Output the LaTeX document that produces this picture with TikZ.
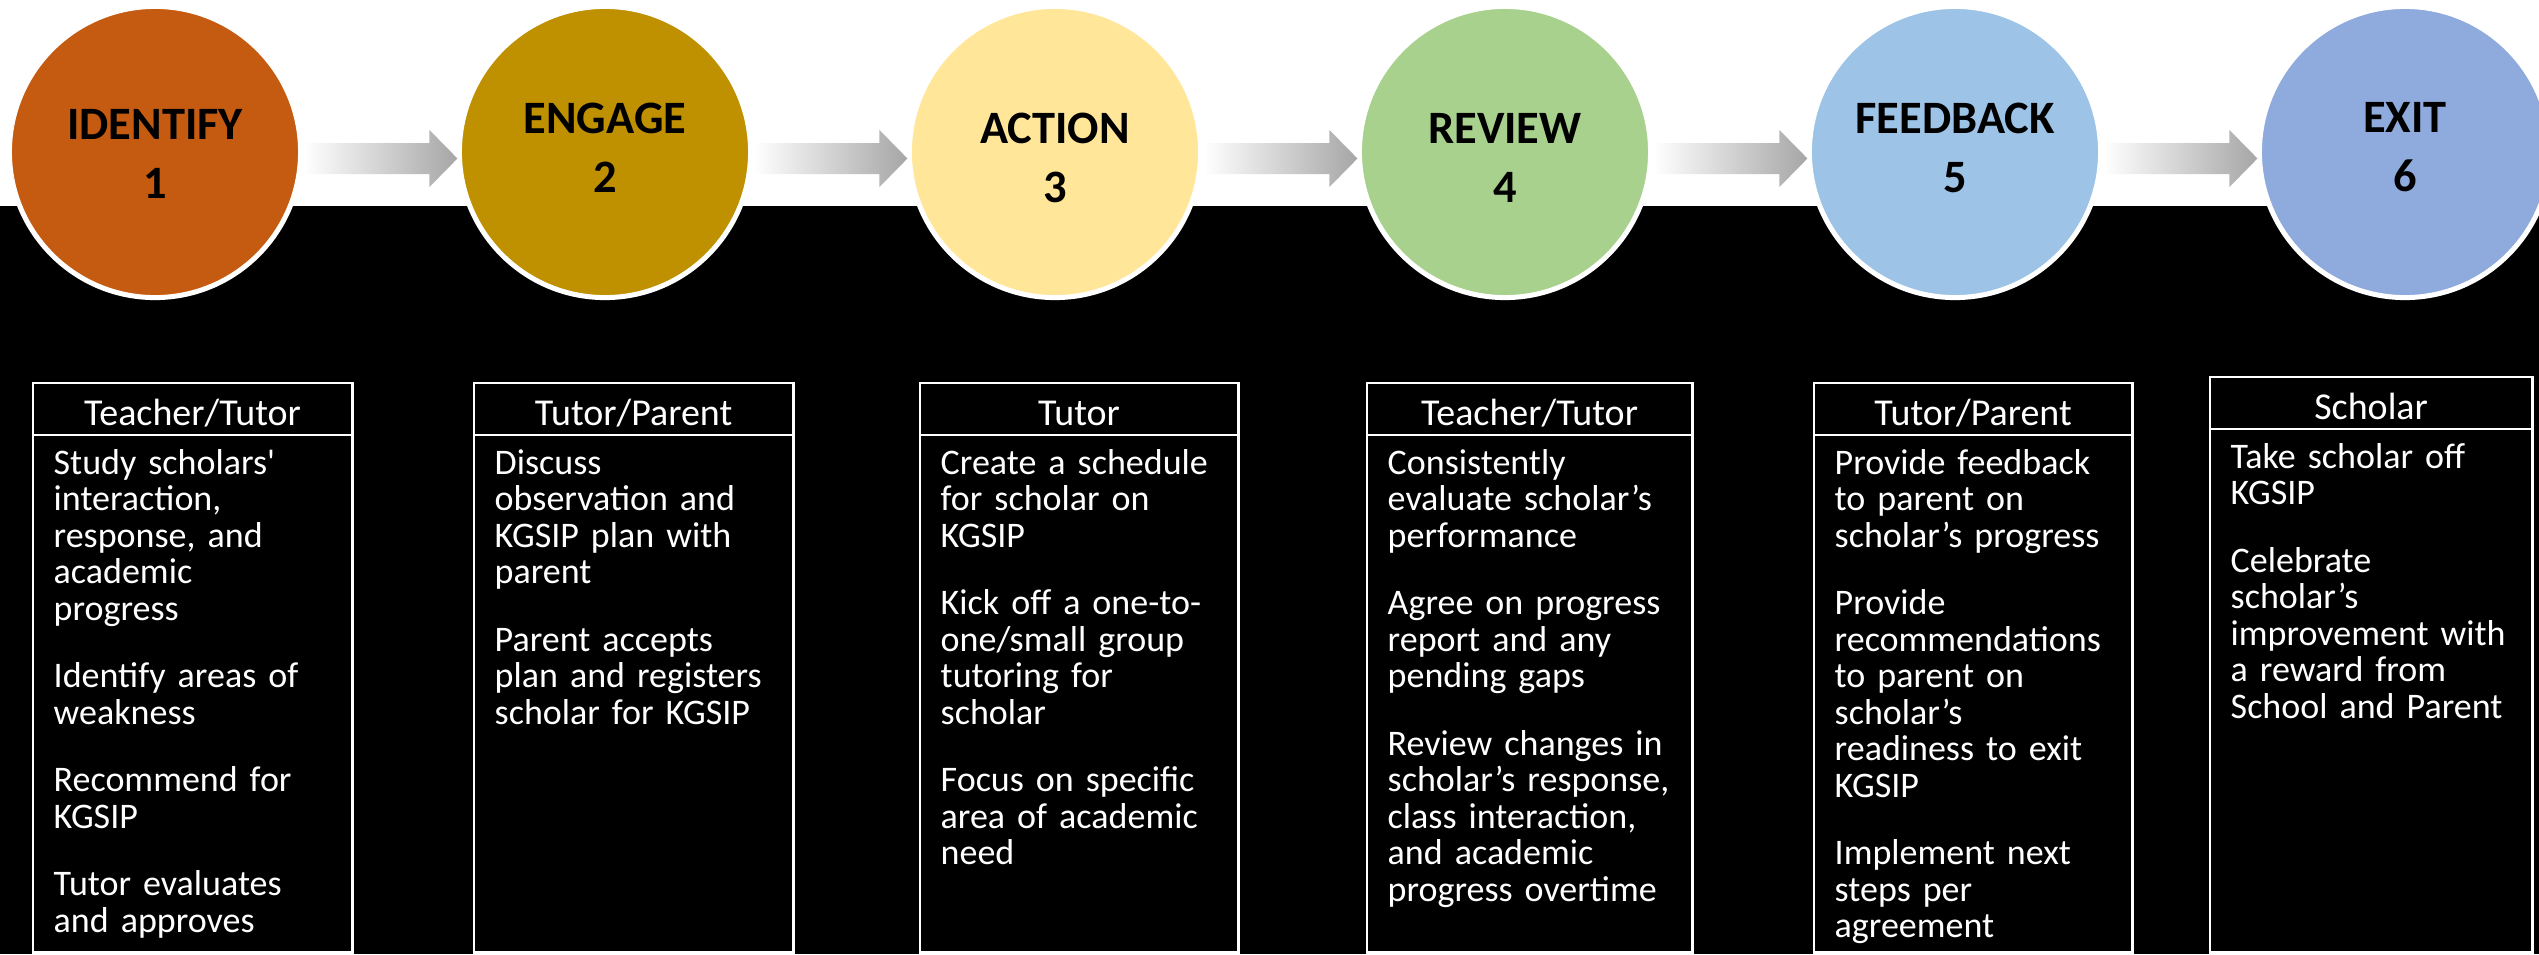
\documentclass[tikz,border=0pt]{standalone}
\usepackage{fontspec}
\setmainfont{Carlito}[Ligatures=TeXOff]
\usetikzlibrary{calc,positioning}
\definecolor{identifycol}{HTML}{C55A11}
\definecolor{engagecol}{HTML}{BF9000}
\definecolor{actioncol}{HTML}{FFE699}
\definecolor{reviewcol}{HTML}{A9D18E}
\definecolor{feedbackcol}{HTML}{9DC3E6}
\definecolor{exitcol}{HTML}{8FAADC}
\definecolor{arrowgray}{HTML}{A6A6A6}
\tikzstyle{stage}=[circle,draw=white,line width=0.05cm,minimum size=2.91cm,inner sep=0pt,outer sep=0pt]
\tikzstyle{stagename}=[align=center,inner sep=0pt,text=black,font=\bfseries\fontsize{13.2}{16.8}\selectfont]
\tikzstyle{rolebox}=[draw=white,line width=0.8pt,anchor=north west,minimum width=3.19cm,minimum height=0.52cm,inner sep=0pt,outer sep=0pt,text=white,text height=0.32cm,text depth=0pt,font=\fontsize{10.8}{12}\selectfont]
\tikzstyle{taskbox}=[draw=white,line width=0.8pt,minimum width=3.19cm,minimum height=5.17cm,inner sep=0pt,outer sep=0pt]
\tikzstyle{tasks}=[anchor=base west,text width=3.2cm,align=left,inner sep=0pt,text=white,font=\fontsize{10.24}{10.39}\selectfont]
\tikzstyle{flow}=[left color=white,right color=arrowgray]

\begin{document}
\begin{tikzpicture}[x=0.01cm,y=-0.01cm]
\useasboundingbox (0,0) rectangle (2539,954);
\clip (0,0) rectangle (2539,954);
\fill[white] (0,0) rectangle (2539,206);
\fill[black] (0,206) rectangle (2539,954);

  \node[stage,fill=identifycol] (s1) at (155,152) {};
  \node[stage,fill=engagecol] (s2) at (605,152) {};
  \node[stage,fill=actioncol] (s3) at (1055,152) {};
  \node[stage,fill=reviewcol] (s4) at (1505,152) {};
  \node[stage,fill=feedbackcol] (s5) at (1955,152) {};
  \node[stage,fill=exitcol] (s6) at (2405,152) {};
  \node[stagename] (n1) at (155,154) {IDENTIFY\\1};
  \node[stagename] (n2) at (605,147.5) {ENGAGE\\2};
  \node[stagename] (n3) at (1055,158) {ACTION\\3};
  \node[stagename] (n4) at (1505,158) {REVIEW\\4};
  \node[stagename] (n5) at (1955,147.5) {FEEDBACK\\5};
  \node[stagename] (n6) at (2405,147.5) {EXIT\\6};
\foreach \a/\b in {1/2,2/3,3/4,4/5,5/6}
  \shade[flow] ($(s\a.east)+(3,-9)$) -- ($(s\b.west)+(-30,-9)$) -- ($(s\b.west)+(-30,-22)$) -- ($(s\b.west)+(-2,6.5)$) -- ($(s\b.west)+(-30,35)$) -- ($(s\b.west)+(-30,22)$) -- ($(s\a.east)+(3,22)$) -- cycle;

  \node[rolebox] (h1) at (33,383) {Teacher/Tutor};
  \node[rolebox] (h2) at (474,383) {Tutor/Parent};
  \node[rolebox,minimum width=3.18cm] (h3) at (920,383) {Tutor};
  \node[rolebox,minimum width=3.25cm] (h4) at (1367,383) {Teacher/Tutor};
  \node[rolebox,minimum width=3.18cm] (h5) at (1814,383) {Tutor/Parent};
  \node[rolebox,minimum width=3.22cm] (h6) at (2210,377) {Scholar};
  \node[taskbox,below=0pt of h1] (b1) {};
  \node[taskbox,below=0pt of h2] (b2) {};
  \node[taskbox,below=0pt of h3,minimum width=3.18cm] (b3) {};
  \node[taskbox,below=0pt of h4,minimum width=3.25cm] (b4) {};
  \node[taskbox,below=0pt of h5,minimum width=3.18cm] (b5) {};
  \node[taskbox,below=0pt of h6,minimum width=3.22cm,minimum height=5.23cm] (b6) {};

  \node[tasks] (t1) at ($(b1.north west)+(20,39)$) {Study scholars'\\interaction,\\response, and\\academic\\progress\\[8.8pt]Identify areas of\\weakness\\[8.8pt]Recommend for\\KGSIP\\[8.8pt]Tutor evaluates\\and approves};
  \node[tasks] (t2) at ($(b2.north west)+(20,39)$) {Discuss\\observation and\\KGSIP plan with\\parent\\[8.8pt]Parent accepts\\plan and registers\\scholar for KGSIP};
  \node[tasks] (t3) at ($(b3.north west)+(20,39)$) {Create a schedule\\for scholar on\\KGSIP\\[8.8pt]Kick off a one-to-\\one/small group\\tutoring for\\scholar\\[8.8pt]Focus on specific\\area of academic\\need};
  \node[tasks] (t4) at ($(b4.north west)+(20,39)$) {Consistently\\evaluate scholar’s\\performance\\[8.8pt]Agree on progress\\report and any\\pending gaps\\[8.8pt]Review changes in\\scholar’s response,\\class interaction,\\and academic\\progress overtime};
  \node[tasks] (t5) at ($(b5.north west)+(20,39)$) {Provide feedback\\to parent on\\scholar’s progress\\[8.8pt]Provide\\recommendations\\to parent on\\scholar’s\\readiness to exit\\KGSIP\\[8.8pt]Implement next\\steps per\\agreement};
  \node[tasks] (t6) at ($(b6.north west)+(20,39)$) {Take scholar off\\KGSIP\\[8.8pt]Celebrate\\scholar’s\\improvement with\\a reward from\\School and Parent};
\end{tikzpicture}
\end{document}
